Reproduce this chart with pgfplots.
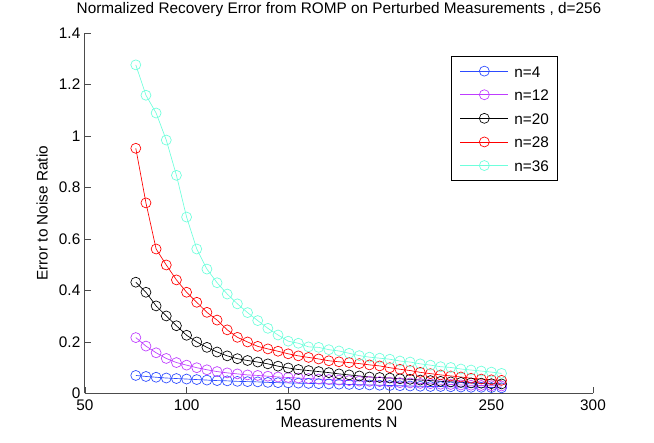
\documentclass[border=0pt]{standalone}
\usepackage{fontspec}
\setmainfont{Liberation Sans}
\usepackage{pgfplots}
\usepackage{pgfplotstable}
\pgfplotsset{compat=1.18}
\definecolor{cblue}{RGB}{45,75,255}
\definecolor{cpurple}{RGB}{190,60,255}
\definecolor{cred}{RGB}{255,0,0}
\definecolor{ccyan}{RGB}{110,255,220}
\pgfplotstableread{
N n4 n12 n20 n28 n36
75 0.070 0.217 0.432 0.952 1.276
80 0.066 0.184 0.393 0.740 1.158
85 0.063 0.158 0.340 0.561 1.089
90 0.060 0.136 0.301 0.499 0.984
95 0.058 0.120 0.263 0.441 0.847
100 0.056 0.110 0.226 0.393 0.685
105 0.054 0.100 0.200 0.354 0.561
110 0.052 0.092 0.179 0.315 0.483
115 0.050 0.085 0.161 0.285 0.430
120 0.049 0.080 0.146 0.247 0.386
125 0.047 0.076 0.135 0.218 0.348
130 0.046 0.072 0.128 0.200 0.314
135 0.045 0.070 0.122 0.183 0.283
140 0.043 0.067 0.115 0.173 0.253
145 0.042 0.064 0.106 0.164 0.227
150 0.041 0.062 0.099 0.154 0.203
155 0.040 0.060 0.093 0.146 0.195
160 0.039 0.058 0.089 0.140 0.181
165 0.038 0.056 0.085 0.134 0.179
170 0.037 0.054 0.081 0.127 0.170
175 0.036 0.052 0.076 0.123 0.165
180 0.035 0.050 0.072 0.120 0.156
185 0.034 0.048 0.068 0.116 0.147
190 0.033 0.047 0.064 0.111 0.141
195 0.032 0.046 0.062 0.107 0.137
200 0.031 0.044 0.060 0.100 0.133
205 0.030 0.042 0.057 0.094 0.126
210 0.029 0.041 0.055 0.089 0.122
215 0.028 0.039 0.052 0.082 0.115
220 0.027 0.038 0.050 0.077 0.110
225 0.027 0.036 0.047 0.072 0.104
230 0.026 0.035 0.045 0.068 0.101
235 0.025 0.033 0.043 0.064 0.095
240 0.024 0.032 0.041 0.059 0.091
245 0.024 0.031 0.040 0.056 0.087
250 0.023 0.030 0.038 0.053 0.083
255 0.022 0.029 0.037 0.051 0.078
}\datatable
\newcommand{\fs}{\fontsize{11.5}{13.8}\selectfont}
\begin{document}
\begin{tikzpicture}
\path[use as bounding box] (-63.75pt,-37.1pt) rectangle (426.75pt,295.1pt);
\begin{axis}[
  at={(0,0)}, anchor=south west,
  scale only axis,
  width=381pt, height=270.4pt,
  xmin=50, xmax=300, ymin=0, ymax=1.4,
  xtick={50,100,150,200,250,300},
  ytick={0,0.2,0.4,0.6,0.8,1,1.2,1.4},
  axis x line*=bottom, axis y line*=left,
  axis line style={black!70, line width=0.75pt},
  tick align=inside,
  major tick length=4.5pt,
  tick style={black!70, line width=0.6pt},
  /pgf/number format/assume math mode=true,
  ticklabel style={font=\fs},
  xticklabel style={yshift=-1pt},
  yticklabel style={/pgf/number format/fixed},
  label style={font=\fs},
  title style={font=\fs, at={(axis description cs:0.5,1.044)}, anchor=center},
  title={Normalized Recovery Error from ROMP on Perturbed Measurements , d=256},
  xlabel={Measurements N},
  ylabel={Error to Noise Ratio},
  xlabel style={at={(axis description cs:0.5,-0.079)}, anchor=center},
  ylabel style={at={(axis description cs:-0.0846,0.5)}, anchor=center},
  clip=false,
  every axis plot/.append style={line width=0.5pt, mark=o, mark size=3.75pt, mark options={solid}},
  legend style={at={(rel axis cs:0.931,0.936)}, anchor=north east, draw=black, line width=0.5pt,
    font=\fs, nodes={inner sep=0pt, text height=9pt, text depth=0pt}, row sep=8.7pt,
    column sep=4.3pt, inner xsep=6.5pt, inner ysep=6.6pt},
  legend cell align=left,
  legend image code/.code={\draw[mark repeat=2,mark phase=2] plot coordinates {(0pt,0pt) (18pt,0pt) (36pt,0pt)};},
]
\addplot[cblue] table[x=N,y=n4] {\datatable};
\addplot[cpurple] table[x=N,y=n12] {\datatable};
\addplot[black] table[x=N,y=n20] {\datatable};
\addplot[cred] table[x=N,y=n28] {\datatable};
\addplot[ccyan] table[x=N,y=n36] {\datatable};
\legend{n=4,n=12,n=20,n=28,n=36}
\end{axis}
\end{tikzpicture}
\end{document}
